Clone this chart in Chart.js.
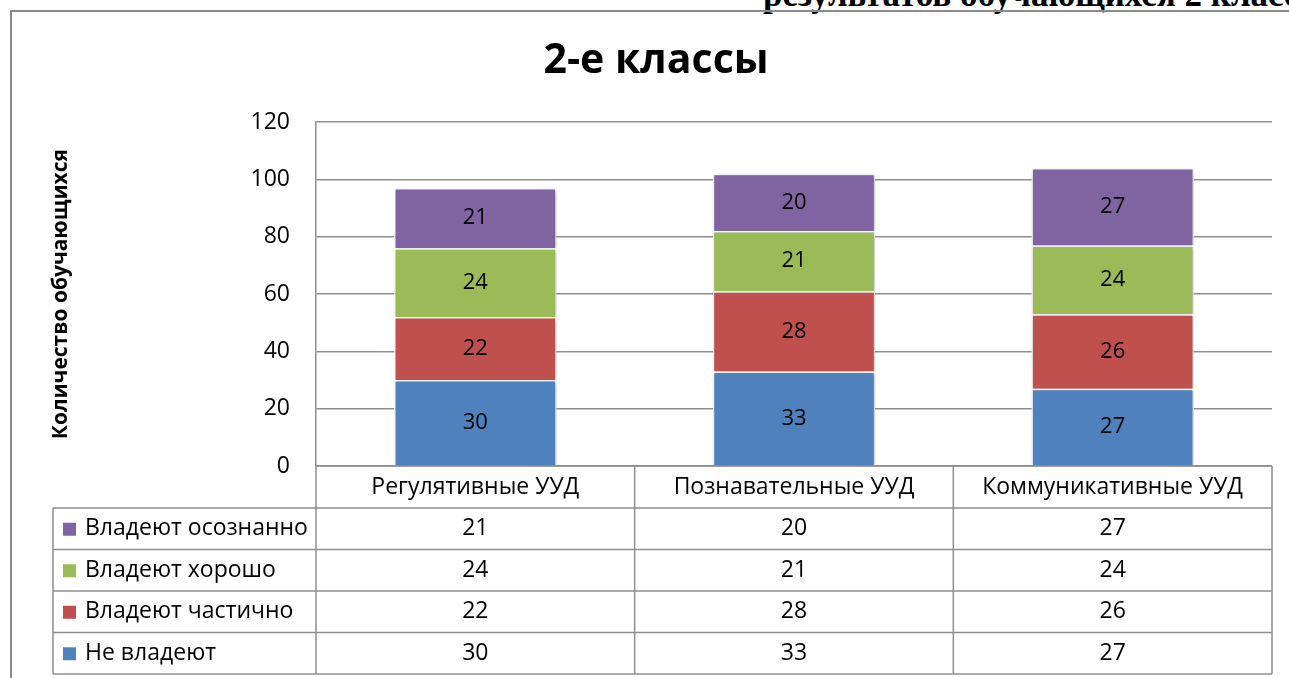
<!DOCTYPE html>
<html>
<head>
<meta charset="utf-8">
<script src="https://cdn.jsdelivr.net/npm/chart.js@4.4.1/dist/chart.umd.min.js"></script>
<style>
html, body { margin: 0; padding: 0; background: #fff; overflow: hidden; }
#frame { position: absolute; left: 10px; top: 10px; width: 1300px; height: 700px;
         border-left: 2px solid #8a8a8a; border-top: 2px solid #8a8a8a; }
#doc { position: absolute; left: 763px; top: -25px; font: bold 35px "Liberation Serif", serif;
       white-space: nowrap; color: #000; }
#wrap { position: absolute; left: 0; top: 0; width: 1289px; height: 678px; }
</style>
</head>
<body>
<div id="doc">результатов обучающихся 2 класса</div>
<div id="frame"></div>
<div id="wrap"><canvas id="uud-chart"></canvas></div>
<script>
const categories = ['Регулятивные УУД', 'Познавательные УУД', 'Коммуникативные УУД'];
const seriesNames = ['Не владеют', 'Владеют частично', 'Владеют хорошо', 'Владеют осознанно'];
const notOwn = [30, 33, 27];
const partly = [22, 28, 26];
const good = [24, 21, 24];
const aware = [21, 20, 27];
const colors = ['#4F81BD', '#C0504D', '#9BBB59', '#8064A2'];

const FONT = '"Open Sans", "Noto Sans", sans-serif';
const LINE = '#8e8e8e';

// values inside the segments
const segLabels = {
    id: 'segLabels',
    beforeDatasetsDraw(chart) {
        const ctx = chart.ctx;
        ctx.save();
        ctx.shadowColor = 'rgba(0,0,0,0.3)';
        ctx.shadowBlur = 4;
        ctx.shadowOffsetX = 1;
        ctx.shadowOffsetY = 1;
    },
    afterDatasetsDraw(chart) {
        const ctx = chart.ctx;
        ctx.restore();
        ctx.save();
        ctx.font = '22px ' + FONT;
        ctx.fillStyle = '#000';
        ctx.textAlign = 'center';
        ctx.textBaseline = 'middle';
        chart.data.datasets.forEach(function(ds, i){
            chart.getDatasetMeta(i).data.forEach(function(bar, j){
                ctx.fillText(ds.data[j], bar.x, (bar.y + bar.base) / 2);
            });
        });
        ctx.restore();
    }
};

// data table under the plot
const dataTable = {
    id: 'dataTable',
    afterDraw(chart) {
        const ctx = chart.ctx;
        const ca = chart.chartArea;
        const xs = chart.scales.x;
        const n = categories.length;
        const edges = [ca.left];
        for (let i = 1; i < n; i++) {
            edges.push((xs.getPixelForValue(i - 1) + xs.getPixelForValue(i)) / 2);
        }
        edges.push(ca.right);
        const tableLeft = 53;
        const headTop = ca.bottom;
        const headH = 42;
        const rowH = 41.5;
        const rows = chart.data.datasets.slice().reverse();
        const bottom = headTop + headH + rowH * rows.length;

        ctx.save();
        ctx.strokeStyle = LINE;
        ctx.lineWidth = 1.5;
        ctx.beginPath();
        ctx.moveTo(ca.left, headTop); ctx.lineTo(ca.right, headTop);
        for (let r = 0; r <= rows.length; r++) {
            const y = headTop + headH + rowH * r;
            ctx.moveTo(tableLeft, y); ctx.lineTo(ca.right, y);
        }
        edges.forEach(function(x){ ctx.moveTo(x, headTop); ctx.lineTo(x, bottom); });
        ctx.moveTo(tableLeft, headTop + headH); ctx.lineTo(tableLeft, bottom);
        ctx.stroke();

        ctx.fillStyle = '#000';
        ctx.textBaseline = 'middle';
        ctx.textAlign = 'center';
        ctx.font = '23px ' + FONT;
        categories.forEach(function(c, i){
            ctx.fillText(c, xs.getPixelForValue(i), headTop + headH / 2);
        });
        rows.forEach(function(ds, r){
            const cy = headTop + headH + rowH * r + rowH / 2;
            ctx.fillStyle = ds.backgroundColor;
            ctx.fillRect(63, cy - 6, 13, 13);
            ctx.fillStyle = '#000';
            ctx.textAlign = 'left';
            ctx.fillText(ds.label, 85, cy);
            ctx.textAlign = 'center';
            ds.data.forEach(function(v, i){
                ctx.fillText(v, xs.getPixelForValue(i), cy);
            });
        });
        ctx.restore();
    }
};

const datasets = [notOwn, partly, good, aware].map(function(vals, i){
    return {
        label: seriesNames[i],
        data: vals,
        backgroundColor: colors[i],
        borderColor: '#ffffff',
        borderWidth: 1.5,
        barPercentage: 0.51,
        categoryPercentage: 1.0
    };
});

const ctx = document.getElementById('uud-chart').getContext('2d');
const uudChart = new Chart(ctx, {
    type: 'bar',
    data: { labels: categories, datasets: datasets },
    options: {
        responsive: true,
        maintainAspectRatio: false,
        animation: false,
        layout: { padding: { left: 40, right: 17, top: 10, bottom: 212 } },
        plugins: {
            legend: { display: false },
            tooltip: { enabled: false },
            title: {
                display: true,
                text: '2-е классы',
                color: '#000',
                font: { family: FONT, size: 41, weight: 'bold' },
                padding: { top: 27, bottom: 36 }
            }
        },
        scales: {
            x: {
                stacked: true,
                ticks: { display: false },
                grid: { display: false },
                border: { display: false },
                afterFit: function(s){ s.height = 0; }
            },
            y: {
                stacked: true,
                min: 0,
                max: 120,
                ticks: { stepSize: 20, padding: 26, color: '#000', font: { family: FONT, size: 23 } },
                grid: { color: LINE, lineWidth: 1.5, drawTicks: false },
                border: { color: LINE, width: 1.5 },
                title: {
                    display: true,
                    text: 'Количество обучающихся',
                    color: '#000',
                    font: { family: FONT, size: 21, weight: 'bold' },
                    padding: { top: 8, bottom: 0 }
                },
                afterFit: function(s){ s.width = 316 - 40; }
            }
        }
    },
    plugins: [segLabels, dataTable]
});
</script>
</body>
</html>
